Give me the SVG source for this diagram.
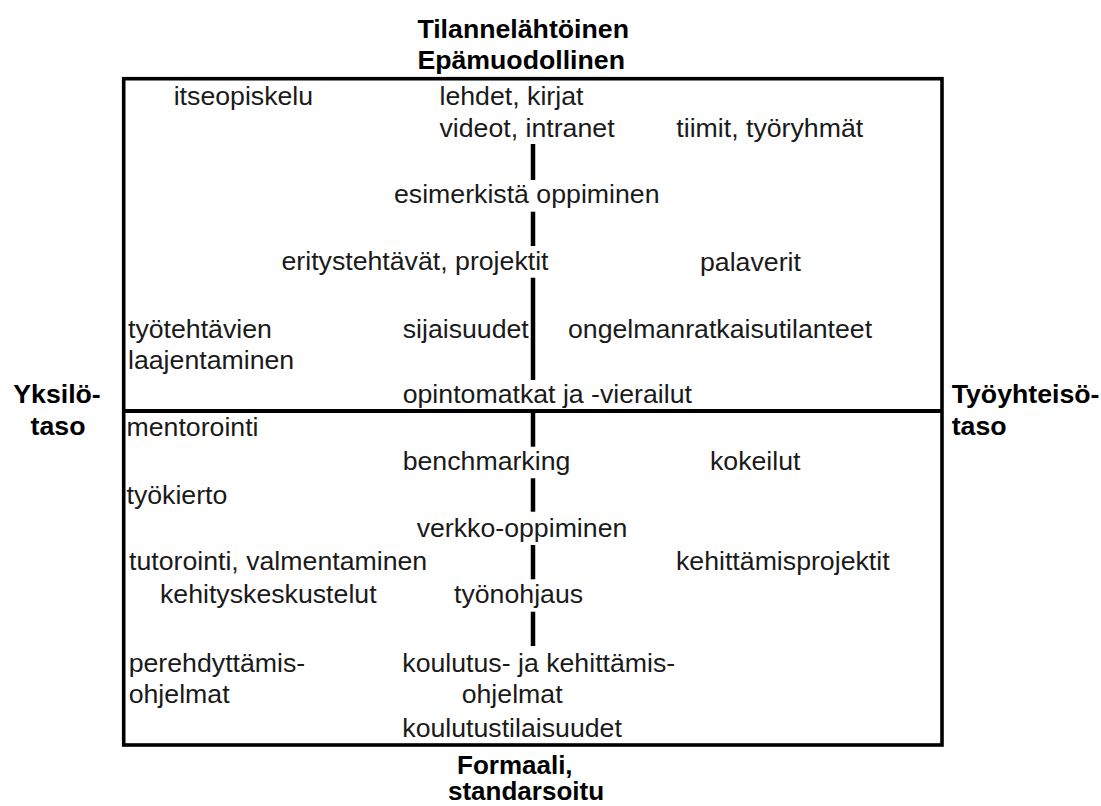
<svg xmlns="http://www.w3.org/2000/svg" width="1101" height="806" viewBox="0 0 1101 806">
<style>
  text { font-family: "Liberation Sans", Arial, sans-serif; font-size: 26.7px; fill: #1a1a1a; }
  .b { font-weight: bold; fill: #000; }
  .sm { font-size: 26px; }
  .frame { fill: none; stroke: #000; stroke-width: 3.6; }
  .axis { stroke: #000; stroke-width: 4; fill: none; }
  .v { stroke: #000; stroke-width: 4.5; fill: none; }
</style>
<rect width="1101" height="806" fill="#fff"/>
<g id="frame">
  <rect class="frame" x="123.7" y="78.7" width="818.3" height="666.3"/>
</g>
<g id="connectors">
  <line class="axis" x1="123.7" y1="411" x2="942" y2="411"/>
  <line class="v" x1="533" y1="144" x2="533" y2="180"/>
  <line class="v" x1="533" y1="211.7" x2="533" y2="246"/>
  <line class="v" x1="533" y1="277.7" x2="533" y2="380"/>
  <line class="v" x1="533" y1="411" x2="533" y2="446.7"/>
  <line class="v" x1="533" y1="478.3" x2="533" y2="511.7"/>
  <line class="v" x1="533" y1="545" x2="533" y2="579.3"/>
  <line class="v" x1="533" y1="611.7" x2="533" y2="646"/>
</g>
<g id="axis-top"><text class="b" x="417.4" y="37.5">Tilannelähtöinen</text><text class="b" x="417.4" y="68.5">Epämuodollinen</text></g>
<g id="axis-bottom"><text class="b sm" x="457" y="774">Formaali,</text><text class="b sm" x="448" y="800">standarsoitu</text></g>
<g id="axis-left"><text class="b" x="57" y="402.5" text-anchor="middle">Yksilö-</text><text class="b" x="58" y="435" text-anchor="middle">taso</text></g>
<g id="axis-right"><text class="b" x="951.7" y="402.5">Työyhteisö-</text><text class="b" x="951.7" y="435">taso</text></g>
<g id="n-itseopiskelu"><text x="173.7" y="104.5">itseopiskelu</text></g>
<g id="n-lehdet"><text x="439.5" y="104.5">lehdet, kirjat</text></g>
<g id="n-videot"><text x="439.5" y="136.7">videot, intranet</text></g>
<g id="n-tiimit"><text x="676.3" y="136.7">tiimit, työryhmät</text></g>
<g id="n-esimerkista"><text x="394" y="203">esimerkistä oppiminen</text></g>
<g id="n-eritystehtavat"><text x="281.5" y="270">eritystehtävät, projektit</text></g>
<g id="n-palaverit"><text x="700" y="270.5">palaverit</text></g>
<g id="n-tyotehtavien"><text x="128" y="338.3">työtehtävien</text><text x="128" y="369">laajentaminen</text></g>
<g id="n-sijaisuudet"><text x="402.7" y="338.3">sijaisuudet</text></g>
<g id="n-ongelmanratkaisu"><text x="568" y="338.3">ongelmanratkaisutilanteet</text></g>
<g id="n-opintomatkat"><text x="402.7" y="403.3">opintomatkat ja -vierailut</text></g>
<g id="n-mentorointi"><text x="126.5" y="435.5">mentorointi</text></g>
<g id="n-benchmarking"><text x="402.7" y="470">benchmarking</text></g>
<g id="n-kokeilut"><text x="710" y="470">kokeilut</text></g>
<g id="n-tyokierto"><text x="126.5" y="503.5">työkierto</text></g>
<g id="n-verkko"><text x="416.7" y="537.3">verkko-oppiminen</text></g>
<g id="n-tutorointi"><text x="129" y="570">tutorointi, valmentaminen</text></g>
<g id="n-kehittamisprojektit"><text x="676" y="570">kehittämisprojektit</text></g>
<g id="n-kehityskeskustelut"><text x="160" y="603.3">kehityskeskustelut</text></g>
<g id="n-tyonohjaus"><text x="454" y="603.3">työnohjaus</text></g>
<g id="n-perehdyttamis"><text x="128.7" y="671.7">perehdyttämis-</text><text x="128.7" y="703.3">ohjelmat</text></g>
<g id="n-koulutus"><text x="402.3" y="671.7">koulutus- ja kehittämis-</text><text x="461.7" y="703.3">ohjelmat</text></g>
<g id="n-koulutustilaisuudet"><text x="402.3" y="736.7">koulutustilaisuudet</text></g>
</svg>
